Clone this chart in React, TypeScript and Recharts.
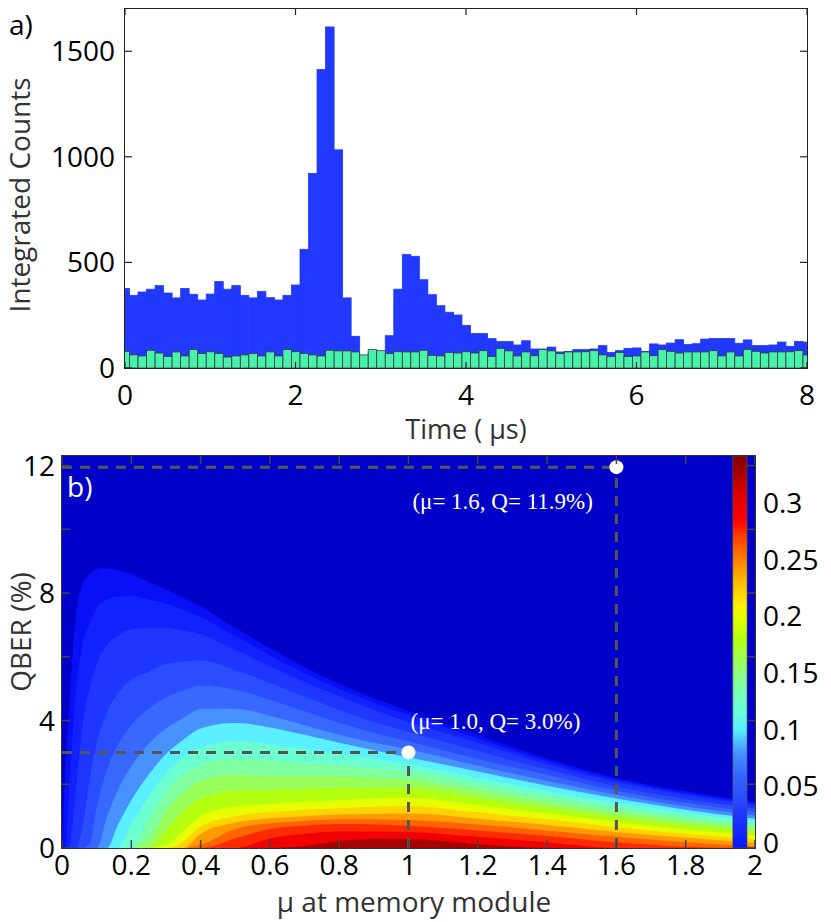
import React from 'react';
import {
  ComposedChart,
  Bar,
  Area,
  Scatter,
  XAxis,
  YAxis,
  CartesianGrid,
  ReferenceLine,
  ReferenceArea,
  Label,
} from 'recharts';

// ---------- panel a: histogram ----------
const TIME_TICKS = [0, 2, 4, 6, 8];
const COUNT_TICKS = [0, 500, 1000, 1500];

// bins centred on 0, 0.1, ... 8.0 us
const BLUE_COUNTS = [
  377, 344, 360, 373, 390, 355, 332, 377, 349, 322,
  350, 409, 373, 390, 344, 332, 362, 333, 322, 344,
  393, 562, 921, 1413, 1615, 1033, 332, 150, 55, 75,
  60, 153, 373, 537, 529, 418, 347, 295, 264, 251,
  202, 163, 163, 139, 125, 125, 109, 129, 90, 90,
  99, 76, 79, 87, 87, 90, 106, 74, 82, 93,
  95, 79, 114, 109, 118, 134, 111, 115, 137, 140,
  140, 140, 117, 133, 106, 106, 109, 123, 103, 126,
  123,
];
const GREEN_COUNTS = [
  79, 62, 57, 84, 71, 55, 76, 57, 87, 69,
  77, 69, 52, 57, 62, 69, 57, 76, 57, 87,
  77, 69, 62, 57, 84, 81, 81, 76, 62, 87,
  82, 68, 77, 76, 76, 84, 60, 57, 74, 71,
  77, 71, 82, 54, 93, 81, 57, 76, 58, 87,
  81, 68, 76, 76, 77, 82, 62, 55, 74, 54,
  57, 76, 58, 87, 79, 71, 76, 76, 76, 82,
  57, 76, 57, 87, 79, 71, 76, 76, 77, 82,
  62,
];

// ---------- panel b: rate map ----------
const MU_TICKS = [0, 0.2, 0.4, 0.6, 0.8, 1, 1.2, 1.4, 1.6, 1.8, 2];
const QBER_TICKS = [0, 2, 4, 6, 8, 10, 12];
const QBER_LABELLED = [0, 4, 8, 12];
const RATE_TICKS = [0, 0.05, 0.1, 0.15, 0.2, 0.25, 0.3];

const MU = [0, 0.01, 0.02, 0.04, 0.06, 0.08, 0.1, 0.13, 0.16, 0.2, 0.25, 0.3, 0.35, 0.4, 0.5, 0.6, 0.7, 0.8, 0.9, 1.0, 1.2, 1.4, 1.6, 1.8, 2.0];

// QBER (%) up to which the rate stays above each contour level, read per mu
const Q_000 = [0, 2.6, 4.3, 7.3, 8.3, 8.6, 8.75, 8.78, 8.72, 8.6, 8.35, 8.12, 7.85, 7.58, 6.9, 6.28, 5.68, 5.15, 4.7, 4.3, 3.55, 2.8, 2.2, 1.78, 1.45];
const Q_008 = [0, 0, 1.76, 4.86, 6.4, 7.06, 7.53, 7.8, 7.88, 7.91, 7.79, 7.67, 7.48, 7.25, 6.65, 6.05, 5.49, 5.0, 4.56, 4.18, 3.43, 2.72, 2.14, 1.72, 1.4];
const Q_020 = [0, 0, 0, 1.86, 3.89, 5.02, 5.77, 6.37, 6.66, 6.86, 6.91, 6.91, 6.82, 6.71, 6.22, 5.7, 5.21, 4.76, 4.33, 3.95, 3.3, 2.63, 2.07, 1.66, 1.34];
const Q_040 = [0, 0, 0, 0, 0.72, 2.15, 3.3, 4.27, 4.83, 5.28, 5.53, 5.77, 5.85, 5.88, 5.58, 5.18, 4.76, 4.33, 3.96, 3.65, 3.04, 2.47, 1.93, 1.54, 1.24];
const Q_060 = [0, 0, 0, 0, 0, 0.13, 1.28, 2.46, 3.21, 3.85, 4.37, 4.73, 4.94, 5.1, 4.97, 4.65, 4.29, 3.93, 3.61, 3.35, 2.79, 2.3, 1.8, 1.42, 1.13];
const Q_080 = [0, 0, 0, 0, 0, 0, 0, 0.97, 1.79, 2.56, 3.27, 3.75, 4.08, 4.36, 4.37, 4.15, 3.85, 3.55, 3.3, 3.1, 2.58, 2.1, 1.67, 1.3, 1.02];
const Q_100 = [0, 0, 0, 0, 0, 0, 0, 0, 0.7, 1.5, 2.3, 2.95, 3.4, 3.75, 3.92, 3.78, 3.55, 3.3, 3.07, 2.85, 2.4, 1.95, 1.55, 1.2, 0.92];
const Q_120 = [0, 0, 0, 0, 0, 0, 0, 0, 0, 0.75, 1.6, 2.35, 2.85, 3.15, 3.35, 3.25, 3.1, 2.95, 2.8, 2.62, 2.2, 1.78, 1.42, 1.1, 0.84];
const Q_140 = [0, 0, 0, 0, 0, 0, 0, 0, 0, 0, 0.9, 1.75, 2.3, 2.6, 2.8, 2.75, 2.65, 2.6, 2.5, 2.4, 2.0, 1.62, 1.28, 0.98, 0.74];
const Q_160 = [0, 0, 0, 0, 0, 0, 0, 0, 0, 0, 0.25, 1.15, 1.75, 2.1, 2.3, 2.25, 2.25, 2.25, 2.2, 2.15, 1.8, 1.45, 1.12, 0.86, 0.63];
const Q_180 = [0, 0, 0, 0, 0, 0, 0, 0, 0, 0, 0, 0.55, 1.15, 1.55, 1.8, 1.82, 1.85, 1.88, 1.88, 1.88, 1.58, 1.26, 0.97, 0.72, 0.52];
const Q_200 = [0, 0, 0, 0, 0, 0, 0, 0, 0, 0, 0, 0.08, 0.55, 1.0, 1.3, 1.38, 1.45, 1.5, 1.55, 1.58, 1.35, 1.08, 0.82, 0.58, 0.4];
const Q_220 = [0, 0, 0, 0, 0, 0, 0, 0, 0, 0, 0, 0, 0.2, 0.68, 1.0, 1.13, 1.2, 1.25, 1.3, 1.32, 1.12, 0.9, 0.66, 0.45, 0.28];
const Q_240 = [0, 0, 0, 0, 0, 0, 0, 0, 0, 0, 0, 0, 0, 0.45, 0.8, 0.93, 1.0, 1.05, 1.07, 1.08, 0.92, 0.72, 0.5, 0.32, 0.16];
const Q_260 = [0, 0, 0, 0, 0, 0, 0, 0, 0, 0, 0, 0, 0, 0.1, 0.6, 0.78, 0.85, 0.9, 0.9, 0.88, 0.74, 0.55, 0.35, 0.18, 0.04];
const Q_280 = [0, 0, 0, 0, 0, 0, 0, 0, 0, 0, 0, 0, 0, 0, 0.3, 0.6, 0.7, 0.75, 0.74, 0.7, 0.55, 0.38, 0.18, 0.04, 0];
const Q_300 = [0, 0, 0, 0, 0, 0, 0, 0, 0, 0, 0, 0, 0, 0, 0, 0.3, 0.45, 0.52, 0.52, 0.5, 0.35, 0.18, 0, 0, 0];
const Q_320 = [0, 0, 0, 0, 0, 0, 0, 0, 0, 0, 0, 0, 0, 0, 0, 0, 0.06, 0.22, 0.28, 0.28, 0.12, 0, 0, 0, 0];

const LEVELS = [
  { key: 'k000', color: '#0810f8', q: Q_000 },
  { key: 'k008', color: '#1222ff', q: Q_008 },
  { key: 'k020', color: '#1e36ff', q: Q_020 },
  { key: 'k040', color: '#2a4eff', q: Q_040 },
  { key: 'k060', color: '#3868ff', q: Q_060 },
  { key: 'k080', color: '#4892ff', q: Q_080 },
  { key: 'k100', color: '#5af0ff', q: Q_100 },
  { key: 'k120', color: '#6cffd0', q: Q_120 },
  { key: 'k140', color: '#80ffa0', q: Q_140 },
  { key: 'k160', color: '#98ff5a', q: Q_160 },
  { key: 'k180', color: '#b4ff10', q: Q_180 },
  { key: 'k200', color: '#e6ff00', q: Q_200 },
  { key: 'k220', color: '#ffd400', q: Q_220 },
  { key: 'k240', color: '#ff9a00', q: Q_240 },
  { key: 'k260', color: '#ff6400', q: Q_260 },
  { key: 'k280', color: '#ff2a00', q: Q_280 },
  { key: 'k300', color: '#f00000', q: Q_300 },
  { key: 'k320', color: '#a80000', q: Q_320 },
];

// colour bar: value -> colour
const CB_MIN = -0.0044;
const CB_MAX = 0.3416;
const JET_STOPS: Array<[number, string]> = [
  [-0.0044, '#0818ff'],
  [0.02, '#1a30ff'],
  [0.04, '#2a4cff'],
  [0.06, '#3566ff'],
  [0.08, '#4a92ff'],
  [0.1, '#58f0ff'],
  [0.12, '#6cffd0'],
  [0.14, '#80ffa0'],
  [0.16, '#98ff5a'],
  [0.18, '#b4ff10'],
  [0.2, '#e6ff00'],
  [0.21, '#ffef00'],
  [0.23, '#ffbe00'],
  [0.25, '#ff8000'],
  [0.27, '#ff4000'],
  [0.285, '#ff0000'],
  [0.31, '#d80000'],
  [0.3416, '#800000'],
];

const DOTS = [
  { mu: 1.0, q: 3.0, text: '(μ= 1.0, Q= 3.0%)' },
  { mu: 1.6, q: 11.95, text: '(μ= 1.6, Q= 11.9%)' },
];
const DOT_LABEL_OFFSET: Record<string, { dx: number; dy: number }> = {
  '(μ= 1.0, Q= 3.0%)': { dx: 2, dy: -23 },
  '(μ= 1.6, Q= 11.9%)': { dx: -204, dy: 42 },
};

const histData = BLUE_COUNTS.map((b, i) => ({ t: i / 10, blue: b, green: GREEN_COUNTS[i] }));

const mapData = MU.map((m, i) => {
  const row: Record<string, number> = { mu: m };
  for (const lv of LEVELS) row[lv.key] = lv.q[i];
  return row;
});

const FONT = '"Open Sans", sans-serif';
const A = { left: 125, right: 807, top: 9, bottom: 368 };
const B = { left: 62, right: 755, top: 16, bottom: 408 };
const A_HEIGHT = 452;
const B_HEIGHT = 482;
const BIN_PX = (A.right - A.left) / 80;

const TimeTick = (props: any) => {
  const { x, payload } = props;
  return (
    <g>
      <line x1={x} x2={x} y1={A.bottom} y2={A.bottom - 6} stroke="#222" strokeWidth={1.2} />
      <line x1={x} x2={x} y1={A.top} y2={A.top + 6} stroke="#222" strokeWidth={1.2} />
      <text x={x} y={A.bottom + 37} textAnchor="middle" fontSize={28} fontFamily={FONT} fill="#000">
        {payload.value}
      </text>
    </g>
  );
};

const CountTick = (props: any) => {
  const { y, payload } = props;
  return (
    <g>
      <line x1={A.left} x2={A.left + 7} y1={y} y2={y} stroke="#222" strokeWidth={1.2} />
      <line x1={A.right} x2={A.right - 7} y1={y} y2={y} stroke="#222" strokeWidth={1.2} />
      <text x={A.left - 10} y={y + 10} textAnchor="end" fontSize={28} fontFamily={FONT} fill="#000">
        {payload.value}
      </text>
    </g>
  );
};

const MuTick = (props: any) => {
  const { x, payload } = props;
  return (
    <g>
      <line x1={x} x2={x} y1={B.bottom} y2={B.bottom - 8} stroke="#444" strokeWidth={1.5} />
      <line x1={x} x2={x} y1={B.top} y2={B.top + 8} stroke="#444" strokeWidth={1.5} />
      <text x={x} y={B.bottom + 27} textAnchor="middle" fontSize={28} fontFamily={FONT} fill="#000">
        {payload.value}
      </text>
    </g>
  );
};

const QberTick = (props: any) => {
  const { y, payload } = props;
  return (
    <g>
      <line x1={B.left} x2={B.left + 8} y1={y} y2={y} stroke="#444" strokeWidth={1.5} />
      <line x1={B.right} x2={B.right - 8} y1={y} y2={y} stroke="#444" strokeWidth={1.5} />
      {QBER_LABELLED.includes(payload.value) && (
        <text x={B.left - 7} y={y + 10} textAnchor="end" fontSize={28} fontFamily={FONT} fill="#000">
          {payload.value}
        </text>
      )}
    </g>
  );
};

const RateTick = (props: any) => {
  const { y, payload } = props;
  return (
    <text x={B.right + 8} y={y + 10} textAnchor="start" fontSize={28} fontFamily={FONT} fill="#000">
      {payload.value}
    </text>
  );
};

const DotShape = (props: any) => {
  const { cx, cy, payload } = props;
  const off = DOT_LABEL_OFFSET[payload.text] || { dx: 0, dy: 0 };
  return (
    <g>
      <circle cx={cx} cy={cy} r={7} fill="#fff" />
      <text x={cx + off.dx} y={cy + off.dy} fontSize={23} fontFamily='"Liberation Serif", serif' fill="#fff">
        {payload.text}
      </text>
    </g>
  );
};

// histogram bar drawn to the full bin width so neighbouring bins touch
const BinShape = (fill: string, stroke: string, strokeWidth: number) => (props: any) => {
  const { x, y, width, height } = props;
  if (height == null || height <= 0) return null;
  const cx = x + width / 2;
  return (
    <rect
      x={cx - BIN_PX / 2}
      y={y}
      width={BIN_PX}
      height={height}
      fill={fill}
      stroke={stroke}
      strokeWidth={strokeWidth}
    />
  );
};

function Frame({ left, top, right, bottom, color }: any) {
  return (
    <div
      style={{
        position: 'absolute',
        left: left - 0.75,
        top: top - 0.75,
        width: right - left + 1.5,
        height: bottom - top + 1.5,
        border: `1.5px solid ${color}`,
        boxSizing: 'border-box',
        pointerEvents: 'none',
      }}
    />
  );
}

export default function App() {
  return (
    <div style={{ position: 'absolute', left: 0, top: 0, width: 831, height: 922, background: '#fff' }}>
      {/* a) */}
      <div style={{ position: 'absolute', left: 0, top: 0 }}>
        <ComposedChart
          width={831}
          height={A_HEIGHT}
          data={histData}
          barCategoryGap={0}
          barGap={0}
          margin={{ top: A.top, right: 831 - A.right, bottom: 0, left: 0 }}
        >
          <Bar
            xAxisId={0}
            dataKey="blue"
            fill="#2138ff"
            shape={BinShape('#2138ff', '#2138ff', 0.8)}
            isAnimationActive={false}
          />
          <Bar
            xAxisId="g"
            dataKey="green"
            fill="#47f2aa"
            shape={BinShape('#47f2aa', '#3a3a3a', 0.8)}
            isAnimationActive={false}
          />
          <XAxis
            xAxisId={0}
            dataKey="t"
            type="number"
            domain={[0, 8]}
            ticks={TIME_TICKS}
            allowDataOverflow
            height={A_HEIGHT - A.bottom}
            tickLine={false}
            axisLine={false}
            tickSize={0}
            tickMargin={0}
            tick={TimeTick}
            interval={0}
          >
            <Label
              content={() => (
                <text x={466} y={439} textAnchor="middle" fontSize={27} fontFamily={FONT} fill="#333">
                  Time ( μs)
                </text>
              )}
            />
          </XAxis>
          <XAxis xAxisId="g" dataKey="t" type="number" domain={[0, 8]} allowDataOverflow hide />
          <YAxis
            type="number"
            domain={[0, 1700]}
            ticks={COUNT_TICKS}
            allowDataOverflow
            width={A.left}
            tickLine={false}
            axisLine={false}
            tickSize={0}
            tickMargin={0}
            tick={CountTick}
            interval={0}
          >
            <Label
              content={() => (
                <g>
                  <text
                    x={30}
                    y={195}
                    transform="rotate(-90 30 195)"
                    textAnchor="middle"
                    fontSize={28}
                    fontFamily={FONT}
                    fill="#333"
                  >
                    Integrated Counts
                  </text>
                  <text x={9} y={35} fontSize={28} fontFamily={FONT} fill="#000">
                    a)
                  </text>
                </g>
              )}
            />
          </YAxis>
        </ComposedChart>
        <Frame left={A.left} top={A.top} right={A.right} bottom={A.bottom} color="#222" />
      </div>

      {/* b) */}
      <div style={{ position: 'absolute', left: 0, top: 440 }}>
        <ComposedChart
          width={831}
          height={B_HEIGHT}
          data={mapData}
          margin={{ top: B.top, right: 0, bottom: 0, left: 0 }}
        >
          <defs>
            <linearGradient id="jetbar" x1="0" y1="1" x2="0" y2="0">
              {JET_STOPS.map(([v, c]) => (
                <stop key={v} offset={(v - CB_MIN) / (CB_MAX - CB_MIN)} stopColor={c} />
              ))}
            </linearGradient>
          </defs>
          <CartesianGrid horizontal={false} vertical={false} fill="#0000c8" />
          {LEVELS.map((lv) => (
            <Area
              key={lv.key}
              dataKey={lv.key}
              type="monotone"
              fill={lv.color}
              fillOpacity={1}
              stroke="none"
              dot={false}
              activeDot={false}
              isAnimationActive={false}
            />
          ))}
          <ReferenceArea
            x1={1.936}
            x2={1.977}
            y1={0}
            y2={12.3}
            fill="url(#jetbar)"
            fillOpacity={1}
            stroke="#555"
            strokeWidth={0.6}
            zIndex={450}
          />
          {DOTS.map((d) => (
            <ReferenceLine
              key={`h${d.text}`}
              segment={[{ x: 0, y: d.q }, { x: d.mu, y: d.q }]}
              stroke="#555"
              strokeWidth={3}
              strokeDasharray="10 8"
            />
          ))}
          {DOTS.map((d) => (
            <ReferenceLine
              key={`v${d.text}`}
              segment={[{ x: d.mu, y: 0 }, { x: d.mu, y: d.q }]}
              stroke="#555"
              strokeWidth={3}
              strokeDasharray="10 8"
            />
          ))}
          <Scatter data={DOTS} dataKey="q" shape={DotShape} isAnimationActive={false} />
          <XAxis
            dataKey="mu"
            type="number"
            domain={[0, 2]}
            ticks={MU_TICKS}
            allowDataOverflow
            height={B_HEIGHT - B.bottom}
            tickLine={false}
            axisLine={false}
            tickSize={0}
            tickMargin={0}
            tick={MuTick}
            interval={0}
          >
            <Label
              content={() => (
                <text x={414} y={472} textAnchor="middle" fontSize={28} fontFamily={FONT} fill="#333">
                  μ at memory module
                </text>
              )}
            />
          </XAxis>
          <YAxis
            type="number"
            domain={[0, 12.3]}
            ticks={QBER_TICKS}
            allowDataOverflow
            width={B.left}
            tickLine={false}
            axisLine={false}
            tickSize={0}
            tickMargin={0}
            tick={QberTick}
            interval={0}
          >
            <Label
              content={() => (
                <g>
                  <text
                    x={31}
                    y={192}
                    transform="rotate(-90 31 192)"
                    textAnchor="middle"
                    fontSize={28}
                    fontFamily={FONT}
                    fill="#333"
                  >
                    QBER (%)
                  </text>
                  <text x={67} y={57} fontSize={28} fontFamily={FONT} fill="#fff">
                    b)
                  </text>
                </g>
              )}
            />
          </YAxis>
          <YAxis
            yAxisId="cb"
            orientation="right"
            type="number"
            domain={[CB_MIN, CB_MAX]}
            ticks={RATE_TICKS}
            allowDataOverflow
            width={831 - B.right}
            tickLine={false}
            axisLine={false}
            tickSize={0}
            tickMargin={0}
            tick={RateTick}
            interval={0}
          />
        </ComposedChart>
        <Frame left={B.left} top={B.top} right={B.right} bottom={B.bottom} color="#333" />
      </div>
    </div>
  );
}
